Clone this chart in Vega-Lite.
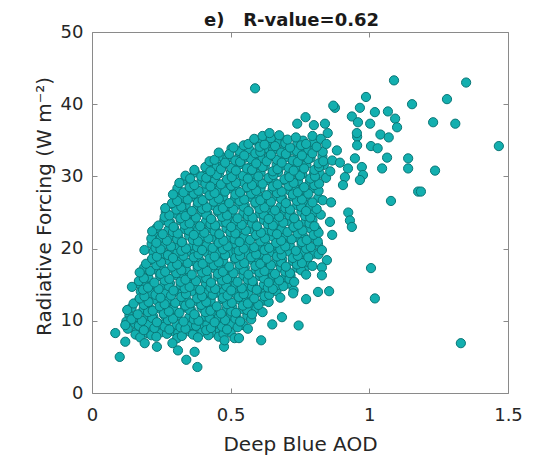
{
"$schema": "https://vega.github.io/schema/vega-lite/v6.json",
"width": 416, "height": 361,
"autosize": {"type": "none"},
"padding": {"left": 92, "top": 32, "right": 30, "bottom": 62},
"background": "white",
"config": {
 "view": {"stroke": "#8a8a8a", "strokeWidth": 1},
 "font": "DejaVu Sans",
 "axis": {"grid": false, "domain": false, "tickColor": "#8a8a8a", "tickSize": -5, "labelFlush": false, "labelFont": "DejaVu Sans", "labelFontSize": 18, "labelColor": "#262626", "titleFont": "DejaVu Sans", "titleFontSize": 20, "titleFontWeight": "normal", "titleColor": "#262626", "minExtent": 0}
},
"data": {"values": [
{"aod":0.161,"rf":8.55},{"aod":0.200,"rf":8.3},{"aod":0.225,"rf":8.5},{"aod":0.248,"rf":8.4},{"aod":0.291,"rf":8.6},{"aod":0.311,"rf":8.35},{"aod":0.350,"rf":8.55},{"aod":0.375,"rf":8.3},{"aod":0.398,"rf":8.5},{"aod":0.441,"rf":8.4},{"aod":0.461,"rf":8.6},{"aod":0.500,"rf":8.35},
{"aod":0.155,"rf":9.65},{"aod":0.18,"rf":9.4},{"aod":0.203,"rf":9.6},{"aod":0.246,"rf":9.5},{"aod":0.266,"rf":9.7},{"aod":0.305,"rf":9.45},{"aod":0.33,"rf":9.65},{"aod":0.353,"rf":9.4},{"aod":0.396,"rf":9.6},{"aod":0.416,"rf":9.5},{"aod":0.455,"rf":9.7},{"aod":0.48,"rf":9.45},{"aod":0.503,"rf":9.65},{"aod":0.546,"rf":9.4},
{"aod":0.135,"rf":10.75},{"aod":0.158,"rf":10.5},{"aod":0.201,"rf":10.7},{"aod":0.221,"rf":10.6},{"aod":0.26,"rf":10.8},{"aod":0.285,"rf":10.55},{"aod":0.308,"rf":10.75},{"aod":0.351,"rf":10.5},{"aod":0.371,"rf":10.7},{"aod":0.41,"rf":10.6},{"aod":0.435,"rf":10.8},{"aod":0.458,"rf":10.55},{"aod":0.501,"rf":10.75},{"aod":0.521,"rf":10.5},{"aod":0.56,"rf":10.7},
{"aod":0.143,"rf":11.85},{"aod":0.186,"rf":11.6},{"aod":0.206,"rf":11.8},{"aod":0.245,"rf":11.7},{"aod":0.27,"rf":11.9},{"aod":0.293,"rf":11.65},{"aod":0.336,"rf":11.85},{"aod":0.356,"rf":11.6},{"aod":0.395,"rf":11.8},{"aod":0.42,"rf":11.7},{"aod":0.443,"rf":11.9},{"aod":0.486,"rf":11.65},{"aod":0.506,"rf":11.85},{"aod":0.545,"rf":11.6},{"aod":0.57,"rf":11.8},{"aod":0.593,"rf":11.7},
{"aod":0.171,"rf":12.95},{"aod":0.191,"rf":12.7},{"aod":0.23,"rf":12.9},{"aod":0.255,"rf":12.8},{"aod":0.278,"rf":13.0},{"aod":0.321,"rf":12.75},{"aod":0.341,"rf":12.95},{"aod":0.38,"rf":12.7},{"aod":0.405,"rf":12.9},{"aod":0.428,"rf":12.8},{"aod":0.471,"rf":13.0},{"aod":0.491,"rf":12.75},{"aod":0.53,"rf":12.95},{"aod":0.555,"rf":12.7},{"aod":0.578,"rf":12.9},{"aod":0.621,"rf":12.8},
{"aod":0.176,"rf":14.05},{"aod":0.215,"rf":13.8},{"aod":0.24,"rf":14.0},{"aod":0.263,"rf":13.9},{"aod":0.306,"rf":14.1},{"aod":0.326,"rf":13.85},{"aod":0.365,"rf":14.05},{"aod":0.39,"rf":13.8},{"aod":0.413,"rf":14.0},{"aod":0.456,"rf":13.9},{"aod":0.476,"rf":14.1},{"aod":0.515,"rf":13.85},{"aod":0.54,"rf":14.05},{"aod":0.563,"rf":13.8},{"aod":0.606,"rf":14.0},{"aod":0.626,"rf":13.9},{"aod":0.665,"rf":14.1},
{"aod":0.17,"rf":15.15},{"aod":0.195,"rf":14.9},{"aod":0.218,"rf":15.1},{"aod":0.261,"rf":15.0},{"aod":0.281,"rf":15.2},{"aod":0.32,"rf":14.95},{"aod":0.345,"rf":15.15},{"aod":0.368,"rf":14.9},{"aod":0.411,"rf":15.1},{"aod":0.431,"rf":15.0},{"aod":0.47,"rf":15.2},{"aod":0.495,"rf":14.95},{"aod":0.518,"rf":15.15},{"aod":0.561,"rf":14.9},{"aod":0.581,"rf":15.1},{"aod":0.62,"rf":15.0},{"aod":0.645,"rf":15.2},{"aod":0.668,"rf":14.95},{"aod":0.711,"rf":15.15},
{"aod":0.18,"rf":16.25},{"aod":0.203,"rf":16.0},{"aod":0.246,"rf":16.2},{"aod":0.266,"rf":16.1},{"aod":0.305,"rf":16.3},{"aod":0.33,"rf":16.05},{"aod":0.353,"rf":16.25},{"aod":0.396,"rf":16.0},{"aod":0.416,"rf":16.2},{"aod":0.455,"rf":16.1},{"aod":0.48,"rf":16.3},{"aod":0.503,"rf":16.05},{"aod":0.546,"rf":16.25},{"aod":0.566,"rf":16.0},{"aod":0.605,"rf":16.2},{"aod":0.63,"rf":16.1},{"aod":0.653,"rf":16.3},{"aod":0.696,"rf":16.05},{"aod":0.716,"rf":16.25},
{"aod":0.188,"rf":17.35},{"aod":0.231,"rf":17.1},{"aod":0.251,"rf":17.3},{"aod":0.29,"rf":17.2},{"aod":0.315,"rf":17.4},{"aod":0.338,"rf":17.15},{"aod":0.381,"rf":17.35},{"aod":0.401,"rf":17.1},{"aod":0.44,"rf":17.3},{"aod":0.465,"rf":17.2},{"aod":0.488,"rf":17.4},{"aod":0.531,"rf":17.15},{"aod":0.551,"rf":17.35},{"aod":0.59,"rf":17.1},{"aod":0.615,"rf":17.3},{"aod":0.638,"rf":17.2},{"aod":0.681,"rf":17.4},{"aod":0.701,"rf":17.15},{"aod":0.74,"rf":17.35},{"aod":0.765,"rf":17.1},
{"aod":0.216,"rf":18.45},{"aod":0.236,"rf":18.2},{"aod":0.275,"rf":18.4},{"aod":0.30,"rf":18.3},{"aod":0.323,"rf":18.5},{"aod":0.366,"rf":18.25},{"aod":0.386,"rf":18.45},{"aod":0.425,"rf":18.2},{"aod":0.45,"rf":18.4},{"aod":0.473,"rf":18.3},{"aod":0.516,"rf":18.5},{"aod":0.536,"rf":18.25},{"aod":0.575,"rf":18.45},{"aod":0.60,"rf":18.2},{"aod":0.623,"rf":18.4},{"aod":0.666,"rf":18.3},{"aod":0.686,"rf":18.5},{"aod":0.725,"rf":18.25},{"aod":0.75,"rf":18.45},{"aod":0.773,"rf":18.2},
{"aod":0.221,"rf":19.55},{"aod":0.26,"rf":19.3},{"aod":0.285,"rf":19.5},{"aod":0.308,"rf":19.4},{"aod":0.351,"rf":19.6},{"aod":0.371,"rf":19.35},{"aod":0.41,"rf":19.55},{"aod":0.435,"rf":19.3},{"aod":0.458,"rf":19.5},{"aod":0.501,"rf":19.4},{"aod":0.521,"rf":19.6},{"aod":0.56,"rf":19.35},{"aod":0.585,"rf":19.55},{"aod":0.608,"rf":19.3},{"aod":0.651,"rf":19.5},{"aod":0.671,"rf":19.4},{"aod":0.71,"rf":19.6},{"aod":0.735,"rf":19.35},{"aod":0.758,"rf":19.55},{"aod":0.801,"rf":19.3},
{"aod":0.215,"rf":20.65},{"aod":0.24,"rf":20.4},{"aod":0.263,"rf":20.6},{"aod":0.306,"rf":20.5},{"aod":0.326,"rf":20.7},{"aod":0.365,"rf":20.45},{"aod":0.39,"rf":20.65},{"aod":0.413,"rf":20.4},{"aod":0.456,"rf":20.6},{"aod":0.476,"rf":20.5},{"aod":0.515,"rf":20.7},{"aod":0.54,"rf":20.45},{"aod":0.563,"rf":20.65},{"aod":0.606,"rf":20.4},{"aod":0.626,"rf":20.6},{"aod":0.665,"rf":20.5},{"aod":0.69,"rf":20.7},{"aod":0.713,"rf":20.45},{"aod":0.756,"rf":20.65},{"aod":0.776,"rf":20.4},{"aod":0.815,"rf":20.6},
{"aod":0.225,"rf":21.75},{"aod":0.248,"rf":21.5},{"aod":0.291,"rf":21.7},{"aod":0.311,"rf":21.6},{"aod":0.35,"rf":21.8},{"aod":0.375,"rf":21.55},{"aod":0.398,"rf":21.75},{"aod":0.441,"rf":21.5},{"aod":0.461,"rf":21.7},{"aod":0.50,"rf":21.6},{"aod":0.525,"rf":21.8},{"aod":0.548,"rf":21.55},{"aod":0.591,"rf":21.75},{"aod":0.611,"rf":21.5},{"aod":0.65,"rf":21.7},{"aod":0.675,"rf":21.6},{"aod":0.698,"rf":21.8},{"aod":0.741,"rf":21.55},{"aod":0.761,"rf":21.75},{"aod":0.80,"rf":21.5},
{"aod":0.233,"rf":22.85},{"aod":0.276,"rf":22.6},{"aod":0.296,"rf":22.8},{"aod":0.335,"rf":22.7},{"aod":0.36,"rf":22.9},{"aod":0.383,"rf":22.65},{"aod":0.426,"rf":22.85},{"aod":0.446,"rf":22.6},{"aod":0.485,"rf":22.8},{"aod":0.51,"rf":22.7},{"aod":0.533,"rf":22.9},{"aod":0.576,"rf":22.65},{"aod":0.596,"rf":22.85},{"aod":0.635,"rf":22.6},{"aod":0.66,"rf":22.8},{"aod":0.683,"rf":22.7},{"aod":0.726,"rf":22.9},{"aod":0.746,"rf":22.65},{"aod":0.785,"rf":22.85},{"aod":0.81,"rf":22.6},
{"aod":0.261,"rf":23.95},{"aod":0.281,"rf":23.7},{"aod":0.32,"rf":23.9},{"aod":0.345,"rf":23.8},{"aod":0.368,"rf":24.0},{"aod":0.411,"rf":23.75},{"aod":0.431,"rf":23.95},{"aod":0.47,"rf":23.7},{"aod":0.495,"rf":23.9},{"aod":0.518,"rf":23.8},{"aod":0.561,"rf":24.0},{"aod":0.581,"rf":23.75},{"aod":0.62,"rf":23.95},{"aod":0.645,"rf":23.7},{"aod":0.668,"rf":23.9},{"aod":0.711,"rf":23.8},{"aod":0.731,"rf":24.0},{"aod":0.77,"rf":23.75},{"aod":0.795,"rf":23.95},
{"aod":0.266,"rf":25.05},{"aod":0.305,"rf":24.8},{"aod":0.33,"rf":25.0},{"aod":0.353,"rf":24.9},{"aod":0.396,"rf":25.1},{"aod":0.416,"rf":24.85},{"aod":0.455,"rf":25.05},{"aod":0.48,"rf":24.8},{"aod":0.503,"rf":25.0},{"aod":0.546,"rf":24.9},{"aod":0.566,"rf":25.1},{"aod":0.605,"rf":24.85},{"aod":0.63,"rf":25.05},{"aod":0.653,"rf":24.8},{"aod":0.696,"rf":25.0},{"aod":0.716,"rf":24.9},{"aod":0.755,"rf":25.1},{"aod":0.78,"rf":24.85},{"aod":0.803,"rf":25.05},
{"aod":0.29,"rf":26.15},{"aod":0.315,"rf":25.9},{"aod":0.338,"rf":26.1},{"aod":0.381,"rf":26.0},{"aod":0.401,"rf":26.2},{"aod":0.44,"rf":25.95},{"aod":0.465,"rf":26.15},{"aod":0.488,"rf":25.9},{"aod":0.531,"rf":26.1},{"aod":0.551,"rf":26.0},{"aod":0.59,"rf":26.2},{"aod":0.615,"rf":25.95},{"aod":0.638,"rf":26.15},{"aod":0.681,"rf":25.9},{"aod":0.701,"rf":26.1},{"aod":0.74,"rf":26.0},{"aod":0.765,"rf":26.2},{"aod":0.788,"rf":25.95},
{"aod":0.30,"rf":27.25},{"aod":0.323,"rf":27.0},{"aod":0.366,"rf":27.2},{"aod":0.386,"rf":27.1},{"aod":0.425,"rf":27.3},{"aod":0.45,"rf":27.05},{"aod":0.473,"rf":27.25},{"aod":0.516,"rf":27.0},{"aod":0.536,"rf":27.2},{"aod":0.575,"rf":27.1},{"aod":0.60,"rf":27.3},{"aod":0.623,"rf":27.05},{"aod":0.666,"rf":27.25},{"aod":0.686,"rf":27.0},{"aod":0.725,"rf":27.2},{"aod":0.75,"rf":27.1},{"aod":0.773,"rf":27.3},{"aod":0.816,"rf":27.05},
{"aod":0.308,"rf":28.35},{"aod":0.351,"rf":28.1},{"aod":0.371,"rf":28.3},{"aod":0.41,"rf":28.2},{"aod":0.435,"rf":28.4},{"aod":0.458,"rf":28.15},{"aod":0.501,"rf":28.35},{"aod":0.521,"rf":28.1},{"aod":0.56,"rf":28.3},{"aod":0.585,"rf":28.2},{"aod":0.608,"rf":28.4},{"aod":0.651,"rf":28.15},{"aod":0.671,"rf":28.35},{"aod":0.71,"rf":28.1},{"aod":0.735,"rf":28.3},{"aod":0.758,"rf":28.2},{"aod":0.801,"rf":28.4},
{"aod":0.336,"rf":29.45},{"aod":0.356,"rf":29.2},{"aod":0.395,"rf":29.4},{"aod":0.42,"rf":29.3},{"aod":0.443,"rf":29.5},{"aod":0.486,"rf":29.25},{"aod":0.506,"rf":29.45},{"aod":0.545,"rf":29.2},{"aod":0.57,"rf":29.4},{"aod":0.593,"rf":29.3},{"aod":0.636,"rf":29.5},{"aod":0.656,"rf":29.25},{"aod":0.695,"rf":29.45},{"aod":0.72,"rf":29.2},{"aod":0.743,"rf":29.4},{"aod":0.786,"rf":29.3},{"aod":0.806,"rf":29.5},
{"aod":0.371,"rf":30.55},{"aod":0.41,"rf":30.3},{"aod":0.435,"rf":30.5},{"aod":0.458,"rf":30.4},{"aod":0.501,"rf":30.6},{"aod":0.521,"rf":30.35},{"aod":0.56,"rf":30.55},{"aod":0.585,"rf":30.3},{"aod":0.608,"rf":30.5},{"aod":0.651,"rf":30.4},{"aod":0.671,"rf":30.6},{"aod":0.71,"rf":30.35},{"aod":0.735,"rf":30.55},{"aod":0.758,"rf":30.3},{"aod":0.801,"rf":30.5},{"aod":0.821,"rf":30.4},
{"aod":0.425,"rf":31.65},{"aod":0.45,"rf":31.4},{"aod":0.473,"rf":31.6},{"aod":0.516,"rf":31.5},{"aod":0.536,"rf":31.7},{"aod":0.575,"rf":31.45},{"aod":0.60,"rf":31.65},{"aod":0.623,"rf":31.4},{"aod":0.666,"rf":31.6},{"aod":0.686,"rf":31.5},{"aod":0.725,"rf":31.7},{"aod":0.75,"rf":31.45},{"aod":0.773,"rf":31.65},{"aod":0.816,"rf":31.4},{"aod":0.836,"rf":31.6},
{"aod":0.465,"rf":32.75},{"aod":0.488,"rf":32.5},{"aod":0.531,"rf":32.7},{"aod":0.551,"rf":32.6},{"aod":0.59,"rf":32.8},{"aod":0.615,"rf":32.55},{"aod":0.638,"rf":32.75},{"aod":0.681,"rf":32.5},{"aod":0.701,"rf":32.7},{"aod":0.74,"rf":32.6},{"aod":0.765,"rf":32.8},{"aod":0.788,"rf":32.55},{"aod":0.831,"rf":32.75},
{"aod":0.503,"rf":33.85},{"aod":0.546,"rf":33.6},{"aod":0.566,"rf":33.8},{"aod":0.605,"rf":33.7},{"aod":0.63,"rf":33.9},{"aod":0.653,"rf":33.65},{"aod":0.696,"rf":33.85},{"aod":0.716,"rf":33.6},{"aod":0.755,"rf":33.8},{"aod":0.78,"rf":33.7},{"aod":0.803,"rf":33.9},
{"aod":0.591,"rf":34.95},{"aod":0.611,"rf":34.7},{"aod":0.65,"rf":34.9},{"aod":0.675,"rf":34.8},{"aod":0.698,"rf":35.0},{"aod":0.741,"rf":34.75},{"aod":0.761,"rf":34.95},{"aod":0.80,"rf":34.7},
{"aod":0.157,"rf":8.1},{"aod":0.174,"rf":7.7},{"aod":0.214,"rf":8.0},{"aod":0.232,"rf":7.8},{"aod":0.27,"rf":8.2},{"aod":0.307,"rf":7.6},{"aod":0.324,"rf":7.9},{"aod":0.364,"rf":8.1},{"aod":0.382,"rf":7.7},{"aod":0.42,"rf":8.0},{"aod":0.457,"rf":7.8},{"aod":0.474,"rf":8.2},{"aod":0.514,"rf":7.6},
{"aod":0.129,"rf":8.9},{"aod":0.169,"rf":9.3},{"aod":0.187,"rf":8.7},{"aod":0.225,"rf":9.0},{"aod":0.262,"rf":9.2},{"aod":0.279,"rf":8.8},{"aod":0.319,"rf":9.1},{"aod":0.337,"rf":8.9},{"aod":0.375,"rf":9.3},{"aod":0.412,"rf":8.7},{"aod":0.429,"rf":9.0},{"aod":0.469,"rf":9.2},{"aod":0.487,"rf":8.8},{"aod":0.525,"rf":9.1},{"aod":0.562,"rf":8.9},
{"aod":0.124,"rf":9.9},{"aod":0.142,"rf":10.2},{"aod":0.18,"rf":10.0},{"aod":0.217,"rf":10.4},{"aod":0.234,"rf":9.8},{"aod":0.274,"rf":10.1},{"aod":0.292,"rf":10.3},{"aod":0.33,"rf":9.9},{"aod":0.367,"rf":10.2},{"aod":0.384,"rf":10.0},{"aod":0.424,"rf":10.4},{"aod":0.442,"rf":9.8},{"aod":0.48,"rf":10.1},{"aod":0.517,"rf":10.3},{"aod":0.534,"rf":9.9},{"aod":0.574,"rf":10.2},
{"aod":0.127,"rf":11.5},{"aod":0.165,"rf":10.9},{"aod":0.202,"rf":11.2},{"aod":0.219,"rf":11.4},{"aod":0.259,"rf":11.0},{"aod":0.277,"rf":11.3},{"aod":0.315,"rf":11.1},{"aod":0.352,"rf":11.5},{"aod":0.369,"rf":10.9},{"aod":0.409,"rf":11.2},{"aod":0.427,"rf":11.4},{"aod":0.465,"rf":11.0},{"aod":0.502,"rf":11.3},{"aod":0.519,"rf":11.1},{"aod":0.559,"rf":11.5},{"aod":0.577,"rf":10.9},{"aod":0.615,"rf":11.2},
{"aod":0.15,"rf":12.4},{"aod":0.187,"rf":12.2},{"aod":0.204,"rf":12.6},{"aod":0.244,"rf":12.0},{"aod":0.262,"rf":12.3},{"aod":0.30,"rf":12.5},{"aod":0.337,"rf":12.1},{"aod":0.354,"rf":12.4},{"aod":0.394,"rf":12.2},{"aod":0.412,"rf":12.6},{"aod":0.45,"rf":12.0},{"aod":0.487,"rf":12.3},{"aod":0.504,"rf":12.5},{"aod":0.544,"rf":12.1},{"aod":0.562,"rf":12.4},{"aod":0.60,"rf":12.2},{"aod":0.637,"rf":12.6},
{"aod":0.172,"rf":13.1},{"aod":0.189,"rf":13.4},{"aod":0.229,"rf":13.6},{"aod":0.247,"rf":13.2},{"aod":0.285,"rf":13.5},{"aod":0.322,"rf":13.3},{"aod":0.339,"rf":13.7},{"aod":0.379,"rf":13.1},{"aod":0.397,"rf":13.4},{"aod":0.435,"rf":13.6},{"aod":0.472,"rf":13.2},{"aod":0.489,"rf":13.5},{"aod":0.529,"rf":13.3},{"aod":0.547,"rf":13.7},{"aod":0.585,"rf":13.1},{"aod":0.622,"rf":13.4},{"aod":0.639,"rf":13.6},{"aod":0.679,"rf":13.2},
{"aod":0.144,"rf":14.7},{"aod":0.184,"rf":14.3},{"aod":0.202,"rf":14.6},{"aod":0.24,"rf":14.4},{"aod":0.277,"rf":14.8},{"aod":0.294,"rf":14.2},{"aod":0.334,"rf":14.5},{"aod":0.352,"rf":14.7},{"aod":0.39,"rf":14.3},{"aod":0.427,"rf":14.6},{"aod":0.444,"rf":14.4},{"aod":0.484,"rf":14.8},{"aod":0.502,"rf":14.2},{"aod":0.54,"rf":14.5},{"aod":0.577,"rf":14.7},{"aod":0.594,"rf":14.3},{"aod":0.634,"rf":14.6},{"aod":0.652,"rf":14.4},{"aod":0.69,"rf":14.8},{"aod":0.727,"rf":14.2},
{"aod":0.169,"rf":15.5},{"aod":0.187,"rf":15.9},{"aod":0.225,"rf":15.3},{"aod":0.262,"rf":15.6},{"aod":0.279,"rf":15.8},{"aod":0.319,"rf":15.4},{"aod":0.337,"rf":15.7},{"aod":0.375,"rf":15.5},{"aod":0.412,"rf":15.9},{"aod":0.429,"rf":15.3},{"aod":0.469,"rf":15.6},{"aod":0.487,"rf":15.8},{"aod":0.525,"rf":15.4},{"aod":0.562,"rf":15.7},{"aod":0.579,"rf":15.5},{"aod":0.619,"rf":15.9},{"aod":0.637,"rf":15.3},{"aod":0.675,"rf":15.6},{"aod":0.712,"rf":15.8},{"aod":0.729,"rf":15.4},
{"aod":0.172,"rf":16.7},{"aod":0.21,"rf":16.9},{"aod":0.247,"rf":16.5},{"aod":0.264,"rf":16.8},{"aod":0.304,"rf":16.6},{"aod":0.322,"rf":17.0},{"aod":0.36,"rf":16.4},{"aod":0.397,"rf":16.7},{"aod":0.414,"rf":16.9},{"aod":0.454,"rf":16.5},{"aod":0.472,"rf":16.8},{"aod":0.51,"rf":16.6},{"aod":0.547,"rf":17.0},{"aod":0.564,"rf":16.4},{"aod":0.604,"rf":16.7},{"aod":0.622,"rf":16.9},{"aod":0.66,"rf":16.5},{"aod":0.697,"rf":16.8},{"aod":0.714,"rf":16.6},{"aod":0.754,"rf":17.0},{"aod":0.772,"rf":16.4},
{"aod":0.195,"rf":17.9},{"aod":0.232,"rf":17.7},{"aod":0.249,"rf":18.1},{"aod":0.289,"rf":17.5},{"aod":0.307,"rf":17.8},{"aod":0.345,"rf":18.0},{"aod":0.382,"rf":17.6},{"aod":0.399,"rf":17.9},{"aod":0.439,"rf":17.7},{"aod":0.457,"rf":18.1},{"aod":0.495,"rf":17.5},{"aod":0.532,"rf":17.8},{"aod":0.549,"rf":18.0},{"aod":0.589,"rf":17.6},{"aod":0.607,"rf":17.9},{"aod":0.645,"rf":17.7},{"aod":0.682,"rf":18.1},{"aod":0.699,"rf":17.5},{"aod":0.739,"rf":17.8},{"aod":0.757,"rf":18.0},{"aod":0.795,"rf":17.6},
{"aod":0.217,"rf":18.6},{"aod":0.234,"rf":18.9},{"aod":0.274,"rf":19.1},{"aod":0.292,"rf":18.7},{"aod":0.33,"rf":19.0},{"aod":0.367,"rf":18.8},{"aod":0.384,"rf":19.2},{"aod":0.424,"rf":18.6},{"aod":0.442,"rf":18.9},{"aod":0.48,"rf":19.1},{"aod":0.517,"rf":18.7},{"aod":0.534,"rf":19.0},{"aod":0.574,"rf":18.8},{"aod":0.592,"rf":19.2},{"aod":0.63,"rf":18.6},{"aod":0.667,"rf":18.9},{"aod":0.684,"rf":19.1},{"aod":0.724,"rf":18.7},{"aod":0.742,"rf":19.0},{"aod":0.78,"rf":18.8},{"aod":0.817,"rf":19.2},
{"aod":0.189,"rf":19.8},{"aod":0.229,"rf":20.1},{"aod":0.247,"rf":19.9},{"aod":0.285,"rf":20.3},{"aod":0.322,"rf":19.7},{"aod":0.339,"rf":20.0},{"aod":0.379,"rf":20.2},{"aod":0.397,"rf":19.8},{"aod":0.435,"rf":20.1},{"aod":0.472,"rf":19.9},{"aod":0.489,"rf":20.3},{"aod":0.529,"rf":19.7},{"aod":0.547,"rf":20.0},{"aod":0.585,"rf":20.2},{"aod":0.622,"rf":19.8},{"aod":0.639,"rf":20.1},{"aod":0.679,"rf":19.9},{"aod":0.697,"rf":20.3},{"aod":0.735,"rf":19.7},{"aod":0.772,"rf":20.0},{"aod":0.789,"rf":20.2},{"aod":0.829,"rf":19.8},
{"aod":0.214,"rf":21.4},{"aod":0.232,"rf":20.8},{"aod":0.27,"rf":21.1},{"aod":0.307,"rf":21.3},{"aod":0.324,"rf":20.9},{"aod":0.364,"rf":21.2},{"aod":0.382,"rf":21.0},{"aod":0.42,"rf":21.4},{"aod":0.457,"rf":20.8},{"aod":0.474,"rf":21.1},{"aod":0.514,"rf":21.3},{"aod":0.532,"rf":20.9},{"aod":0.57,"rf":21.2},{"aod":0.607,"rf":21.0},{"aod":0.624,"rf":21.4},{"aod":0.664,"rf":20.8},{"aod":0.682,"rf":21.1},{"aod":0.72,"rf":21.3},{"aod":0.757,"rf":20.9},{"aod":0.774,"rf":21.2},{"aod":0.814,"rf":21.0},
{"aod":0.217,"rf":22.4},{"aod":0.255,"rf":22.0},{"aod":0.292,"rf":22.3},{"aod":0.309,"rf":22.1},{"aod":0.349,"rf":22.5},{"aod":0.367,"rf":21.9},{"aod":0.405,"rf":22.2},{"aod":0.442,"rf":22.4},{"aod":0.459,"rf":22.0},{"aod":0.499,"rf":22.3},{"aod":0.517,"rf":22.1},{"aod":0.555,"rf":22.5},{"aod":0.592,"rf":21.9},{"aod":0.609,"rf":22.2},{"aod":0.649,"rf":22.4},{"aod":0.667,"rf":22.0},{"aod":0.705,"rf":22.3},{"aod":0.742,"rf":22.1},{"aod":0.759,"rf":22.5},{"aod":0.799,"rf":21.9},{"aod":0.817,"rf":22.2},
{"aod":0.24,"rf":23.2},{"aod":0.277,"rf":23.6},{"aod":0.294,"rf":23.0},{"aod":0.334,"rf":23.3},{"aod":0.352,"rf":23.5},{"aod":0.39,"rf":23.1},{"aod":0.427,"rf":23.4},{"aod":0.444,"rf":23.2},{"aod":0.484,"rf":23.6},{"aod":0.502,"rf":23.0},{"aod":0.54,"rf":23.3},{"aod":0.577,"rf":23.5},{"aod":0.594,"rf":23.1},{"aod":0.634,"rf":23.4},{"aod":0.652,"rf":23.2},{"aod":0.69,"rf":23.6},{"aod":0.727,"rf":23.0},{"aod":0.744,"rf":23.3},{"aod":0.784,"rf":23.5},{"aod":0.802,"rf":23.1},
{"aod":0.262,"rf":24.4},{"aod":0.279,"rf":24.6},{"aod":0.319,"rf":24.2},{"aod":0.337,"rf":24.5},{"aod":0.375,"rf":24.3},{"aod":0.412,"rf":24.7},{"aod":0.429,"rf":24.1},{"aod":0.469,"rf":24.4},{"aod":0.487,"rf":24.6},{"aod":0.525,"rf":24.2},{"aod":0.562,"rf":24.5},{"aod":0.579,"rf":24.3},{"aod":0.619,"rf":24.7},{"aod":0.637,"rf":24.1},{"aod":0.675,"rf":24.4},{"aod":0.712,"rf":24.6},{"aod":0.729,"rf":24.2},{"aod":0.769,"rf":24.5},{"aod":0.787,"rf":24.3},{"aod":0.825,"rf":24.7},
{"aod":0.264,"rf":25.6},{"aod":0.304,"rf":25.4},{"aod":0.322,"rf":25.8},{"aod":0.36,"rf":25.2},{"aod":0.397,"rf":25.5},{"aod":0.414,"rf":25.7},{"aod":0.454,"rf":25.3},{"aod":0.472,"rf":25.6},{"aod":0.51,"rf":25.4},{"aod":0.547,"rf":25.8},{"aod":0.564,"rf":25.2},{"aod":0.604,"rf":25.5},{"aod":0.622,"rf":25.7},{"aod":0.66,"rf":25.3},{"aod":0.697,"rf":25.6},{"aod":0.714,"rf":25.4},{"aod":0.754,"rf":25.8},{"aod":0.772,"rf":25.2},{"aod":0.81,"rf":25.5},
{"aod":0.289,"rf":26.3},{"aod":0.307,"rf":26.6},{"aod":0.345,"rf":26.8},{"aod":0.382,"rf":26.4},{"aod":0.399,"rf":26.7},{"aod":0.439,"rf":26.5},{"aod":0.457,"rf":26.9},{"aod":0.495,"rf":26.3},{"aod":0.532,"rf":26.6},{"aod":0.549,"rf":26.8},{"aod":0.589,"rf":26.4},{"aod":0.607,"rf":26.7},{"aod":0.645,"rf":26.5},{"aod":0.682,"rf":26.9},{"aod":0.699,"rf":26.3},{"aod":0.739,"rf":26.6},{"aod":0.757,"rf":26.8},{"aod":0.795,"rf":26.4},{"aod":0.832,"rf":26.7},
{"aod":0.292,"rf":27.5},{"aod":0.33,"rf":27.8},{"aod":0.367,"rf":27.6},{"aod":0.384,"rf":28.0},{"aod":0.424,"rf":27.4},{"aod":0.442,"rf":27.7},{"aod":0.48,"rf":27.9},{"aod":0.517,"rf":27.5},{"aod":0.534,"rf":27.8},{"aod":0.574,"rf":27.6},{"aod":0.592,"rf":28.0},{"aod":0.63,"rf":27.4},{"aod":0.667,"rf":27.7},{"aod":0.684,"rf":27.9},{"aod":0.724,"rf":27.5},{"aod":0.742,"rf":27.8},{"aod":0.78,"rf":27.6},{"aod":0.817,"rf":28.0},
{"aod":0.315,"rf":29.1},{"aod":0.352,"rf":28.5},{"aod":0.369,"rf":28.8},{"aod":0.409,"rf":29.0},{"aod":0.427,"rf":28.6},{"aod":0.465,"rf":28.9},{"aod":0.502,"rf":28.7},{"aod":0.519,"rf":29.1},{"aod":0.559,"rf":28.5},{"aod":0.577,"rf":28.8},{"aod":0.615,"rf":29.0},{"aod":0.652,"rf":28.6},{"aod":0.669,"rf":28.9},{"aod":0.709,"rf":28.7},{"aod":0.727,"rf":29.1},{"aod":0.765,"rf":28.5},{"aod":0.802,"rf":28.8},{"aod":0.819,"rf":29.0},
{"aod":0.337,"rf":30.1},{"aod":0.354,"rf":29.7},{"aod":0.394,"rf":30.0},{"aod":0.412,"rf":29.8},{"aod":0.45,"rf":30.2},{"aod":0.487,"rf":29.6},{"aod":0.504,"rf":29.9},{"aod":0.544,"rf":30.1},{"aod":0.562,"rf":29.7},{"aod":0.60,"rf":30.0},{"aod":0.637,"rf":29.8},{"aod":0.654,"rf":30.2},{"aod":0.694,"rf":29.6},{"aod":0.712,"rf":29.9},{"aod":0.75,"rf":30.1},{"aod":0.787,"rf":29.7},{"aod":0.804,"rf":30.0},{"aod":0.844,"rf":29.8},
{"aod":0.369,"rf":30.9},{"aod":0.409,"rf":31.3},{"aod":0.427,"rf":30.7},{"aod":0.465,"rf":31.0},{"aod":0.502,"rf":31.2},{"aod":0.519,"rf":30.8},{"aod":0.559,"rf":31.1},{"aod":0.577,"rf":30.9},{"aod":0.615,"rf":31.3},{"aod":0.652,"rf":30.7},{"aod":0.669,"rf":31.0},{"aod":0.709,"rf":31.2},{"aod":0.727,"rf":30.8},{"aod":0.765,"rf":31.1},{"aod":0.802,"rf":30.9},{"aod":0.819,"rf":31.3},{"aod":0.859,"rf":30.7},
{"aod":0.424,"rf":32.1},{"aod":0.442,"rf":32.3},{"aod":0.48,"rf":31.9},{"aod":0.517,"rf":32.2},{"aod":0.534,"rf":32.0},{"aod":0.574,"rf":32.4},{"aod":0.592,"rf":31.8},{"aod":0.63,"rf":32.1},{"aod":0.667,"rf":32.3},{"aod":0.684,"rf":31.9},{"aod":0.724,"rf":32.2},{"aod":0.742,"rf":32.0},{"aod":0.78,"rf":32.4},{"aod":0.817,"rf":31.8},{"aod":0.834,"rf":32.1},
{"aod":0.457,"rf":33.3},{"aod":0.495,"rf":33.1},{"aod":0.532,"rf":33.5},{"aod":0.549,"rf":32.9},{"aod":0.589,"rf":33.2},{"aod":0.607,"rf":33.4},{"aod":0.645,"rf":33.0},{"aod":0.682,"rf":33.3},{"aod":0.699,"rf":33.1},{"aod":0.739,"rf":33.5},{"aod":0.757,"rf":32.9},{"aod":0.795,"rf":33.2},{"aod":0.832,"rf":33.4},
{"aod":0.51,"rf":34.0},{"aod":0.547,"rf":34.3},{"aod":0.564,"rf":34.5},{"aod":0.604,"rf":34.1},{"aod":0.622,"rf":34.4},{"aod":0.66,"rf":34.2},{"aod":0.697,"rf":34.6},{"aod":0.714,"rf":34.0},{"aod":0.754,"rf":34.3},{"aod":0.772,"rf":34.5},{"aod":0.81,"rf":34.1},
{"aod":0.585,"rf":35.2},{"aod":0.615,"rf":35.6},{"aod":0.645,"rf":35.3},{"aod":0.675,"rf":35.7},{"aod":0.705,"rf":35.1},{"aod":0.735,"rf":35.4},{"aod":0.795,"rf":35.6},{"aod":0.825,"rf":35.2},
{"aod":0.588,"rf":42.2},{"aod":1.089,"rf":43.3},{"aod":1.349,"rf":43.0},{"aod":0.988,"rf":41.0},{"aod":0.876,"rf":39.5},{"aod":0.966,"rf":39.5},{"aod":1.154,"rf":40.0},{"aod":1.28,"rf":40.7},{"aod":1.02,"rf":38.9},{"aod":1.067,"rf":39.0},{"aod":0.937,"rf":38.3},{"aod":0.959,"rf":37.5},{"aod":1.003,"rf":37.3},{"aod":1.093,"rf":38.0},{"aod":1.10,"rf":36.8},{"aod":1.23,"rf":37.5},{"aod":1.31,"rf":37.3},{"aod":1.467,"rf":34.2},{"aod":0.956,"rf":35.5},{"aod":0.956,"rf":34.3},{"aod":1.006,"rf":34.2},{"aod":1.03,"rf":33.9},{"aod":1.04,"rf":35.8},{"aod":1.07,"rf":35.4},{"aod":1.064,"rf":32.6},{"aod":1.046,"rf":31.1},{"aod":1.14,"rf":32.5},{"aod":1.14,"rf":31.1},{"aod":1.237,"rf":30.8},{"aod":0.948,"rf":32.5},{"aod":0.973,"rf":31.3},{"aod":0.977,"rf":30.2},{"aod":0.966,"rf":29.5},{"aod":1.176,"rf":27.9},{"aod":1.186,"rf":27.9},{"aod":1.078,"rf":26.6},{"aod":0.924,"rf":25.0},{"aod":0.93,"rf":23.9},{"aod":0.937,"rf":23.0},{"aod":1.006,"rf":17.3},{"aod":1.02,"rf":13.1},{"aod":1.33,"rf":6.9},
{"aod":0.923,"rf":31.1},{"aod":0.912,"rf":29.9},{"aod":0.883,"rf":33.6},{"aod":0.866,"rf":32.2},{"aod":0.905,"rf":28.8},{"aod":0.894,"rf":31.9},{"aod":0.862,"rf":26.4},{"aod":0.858,"rf":23.7},{"aod":0.866,"rf":21.9},{"aod":0.847,"rf":18.4},{"aod":0.829,"rf":17.4},{"aod":0.829,"rf":16.3},{"aod":0.815,"rf":14.0},{"aod":0.855,"rf":14.1},{"aod":0.772,"rf":13.0},{"aod":0.725,"rf":13.8},{"aod":0.745,"rf":9.35},
{"aod":0.74,"rf":37.3},{"aod":0.77,"rf":38.2},{"aod":0.80,"rf":37.1},{"aod":0.84,"rf":37.3},{"aod":0.85,"rf":36.0},{"aod":0.87,"rf":39.8},{"aod":0.955,"rf":36.0},{"aod":0.64,"rf":36.0},{"aod":0.845,"rf":34.5},
{"aod":0.084,"rf":8.3},{"aod":0.12,"rf":9.4},{"aod":0.10,"rf":5.0},{"aod":0.12,"rf":7.1},{"aod":0.19,"rf":6.9},{"aod":0.234,"rf":6.4},{"aod":0.34,"rf":4.6},{"aod":0.38,"rf":3.6},{"aod":0.37,"rf":5.7},{"aod":0.31,"rf":5.9},{"aod":0.29,"rf":6.9},{"aod":0.476,"rf":6.4},{"aod":0.478,"rf":7.3},{"aod":0.53,"rf":7.6},{"aod":0.61,"rf":7.3},{"aod":0.65,"rf":9.5},{"aod":0.685,"rf":10.5}
]},
"layer": [
 {"mark": {"type": "circle", "size": 85, "fill": "#13afaf", "stroke": "#0a7676", "strokeWidth": 1, "opacity": 1},
  "encoding": {
   "x": {"field": "aod", "type": "quantitative", "scale": {"domain": [0, 1.5], "nice": false, "zero": false}, "axis": {"orient": "bottom", "values": [0, 0.5, 1, 1.5], "format": "~g", "title": "Deep Blue AOD", "labelPadding": 18, "titleBaseline": "alphabetic", "titleY": 57.5}},
   "y": {"field": "rf", "type": "quantitative", "scale": {"domain": [0, 50], "nice": false}, "axis": {"orient": "left", "values": [0, 10, 20, 30, 40, 50], "title": "Radiative Forcing (W m⁻²)", "labelPadding": 14, "titleBaseline": "alphabetic", "titleY": 174, "titleX": -41.5}}
  }},
 {"transform": [{"filter": "datum.aod > 1.4"}],
  "mark": {"type": "point", "opacity": 0},
  "encoding": {
   "x": {"field": "aod", "type": "quantitative", "scale": {"domain": [0, 1.5], "nice": false, "zero": false}, "axis": {"orient": "top", "values": [0, 0.5, 1, 1.5], "labels": false, "title": "e)\u00a0\u00a0\u00a0R-value=0.62", "titleFontWeight": "bold", "titleFontSize": 18, "titleColor": "#1a1a1a", "titleBaseline": "alphabetic", "titleX": 199, "titleY": -7}},
   "y": {"field": "rf", "type": "quantitative", "scale": {"domain": [0, 50], "nice": false}, "axis": {"orient": "right", "values": [0, 10, 20, 30, 40, 50], "labels": false, "title": null}}
  }}
],
"resolve": {"axis": {"x": "independent", "y": "independent"}}
}
